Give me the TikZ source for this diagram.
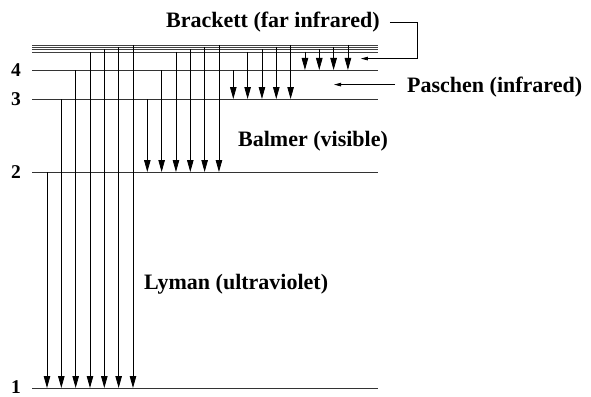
\documentclass[tikz,border=0pt]{standalone}
\usepackage{fontspec}
\setmainfont{Liberation Serif}
\usetikzlibrary{arrows.meta}
\begin{document}
\begin{tikzpicture}[x=1pt,y=-1pt,
  level/.style={line width=1pt, black!80},
  toplevel/.style={line width=0.6pt, black!75},
  trans/.style={line width=0.8pt, -{Triangle[length=12pt,width=6.5pt]}},
  pointer/.style={line width=0.8pt, -{Triangle[length=7pt,width=3.5pt]}},
  series/.style={font=\fontsize{22}{26}\selectfont\bfseries, inner sep=0pt, anchor=base west},
  lvnum/.style={font=\fontsize{19.5}{22}\selectfont\bfseries, inner sep=0pt}]
\useasboundingbox (0,0) rectangle (591,396);

% energy levels n = 1..4, then n = 5, 6, 7 and the limit
\def\yA{388}\def\yB{172}\def\yC{99}\def\yD{70}
\def\yE{52}\def\yF{49.5}\def\yG{47}\def\yH{45}
\foreach \y in {\yA,\yB,\yC,\yD} \draw[level] (32,\y) -- (378,\y);
\foreach \y in {\yE,\yF,\yG,\yH} \draw[toplevel] (32,\y) -- (378,\y);

\node[lvnum] (n1) at (16,387) {1};
\node[lvnum] (n2) at (16,\yB) {2};
\node[lvnum] (n3) at (16,\yC) {3};
\node[lvnum] (n4) at (16,\yD) {4};

% transitions: column index, upper level, lower level
\foreach \k/\ya/\yb in {
   0/\yB/\yA, 1/\yC/\yA, 2/\yD/\yA, 3/\yE/\yA, 4/\yF/\yA, 5/\yG/\yA, 6/\yH/\yA,
   7/\yC/\yB, 8/\yD/\yB, 9/\yE/\yB, 10/\yF/\yB, 11/\yG/\yB, 12/\yH/\yB,
   13/\yD/\yC, 14/\yE/\yC, 15/\yF/\yC, 16/\yG/\yC, 17/\yH/\yC,
   18/\yE/\yD, 19/\yF/\yD, 20/\yG/\yD, 21/\yH/\yD}
  \draw[trans] ({47+14.33*\k},\ya) -- ({47+14.33*\k},\yb);

% series names
\node[series] (brk) at (166,28) {Brackett (far infrared)};
\node[series] (pas) at (407,92) {Paschen (infrared)};
\node[series] (bal) at (238,146) {Balmer (visible)};
\node[series] (lym) at (144,289) {Lyman (ultraviolet)};

\draw[pointer] ([xshift=10pt]brk.east) -- ++(28,0) -- ++(0,36) -- ++(-57,0);
\draw[pointer] ([xshift=-12pt,yshift=2pt]pas.west) -- ++(-61,0);
\end{tikzpicture}
\end{document}
